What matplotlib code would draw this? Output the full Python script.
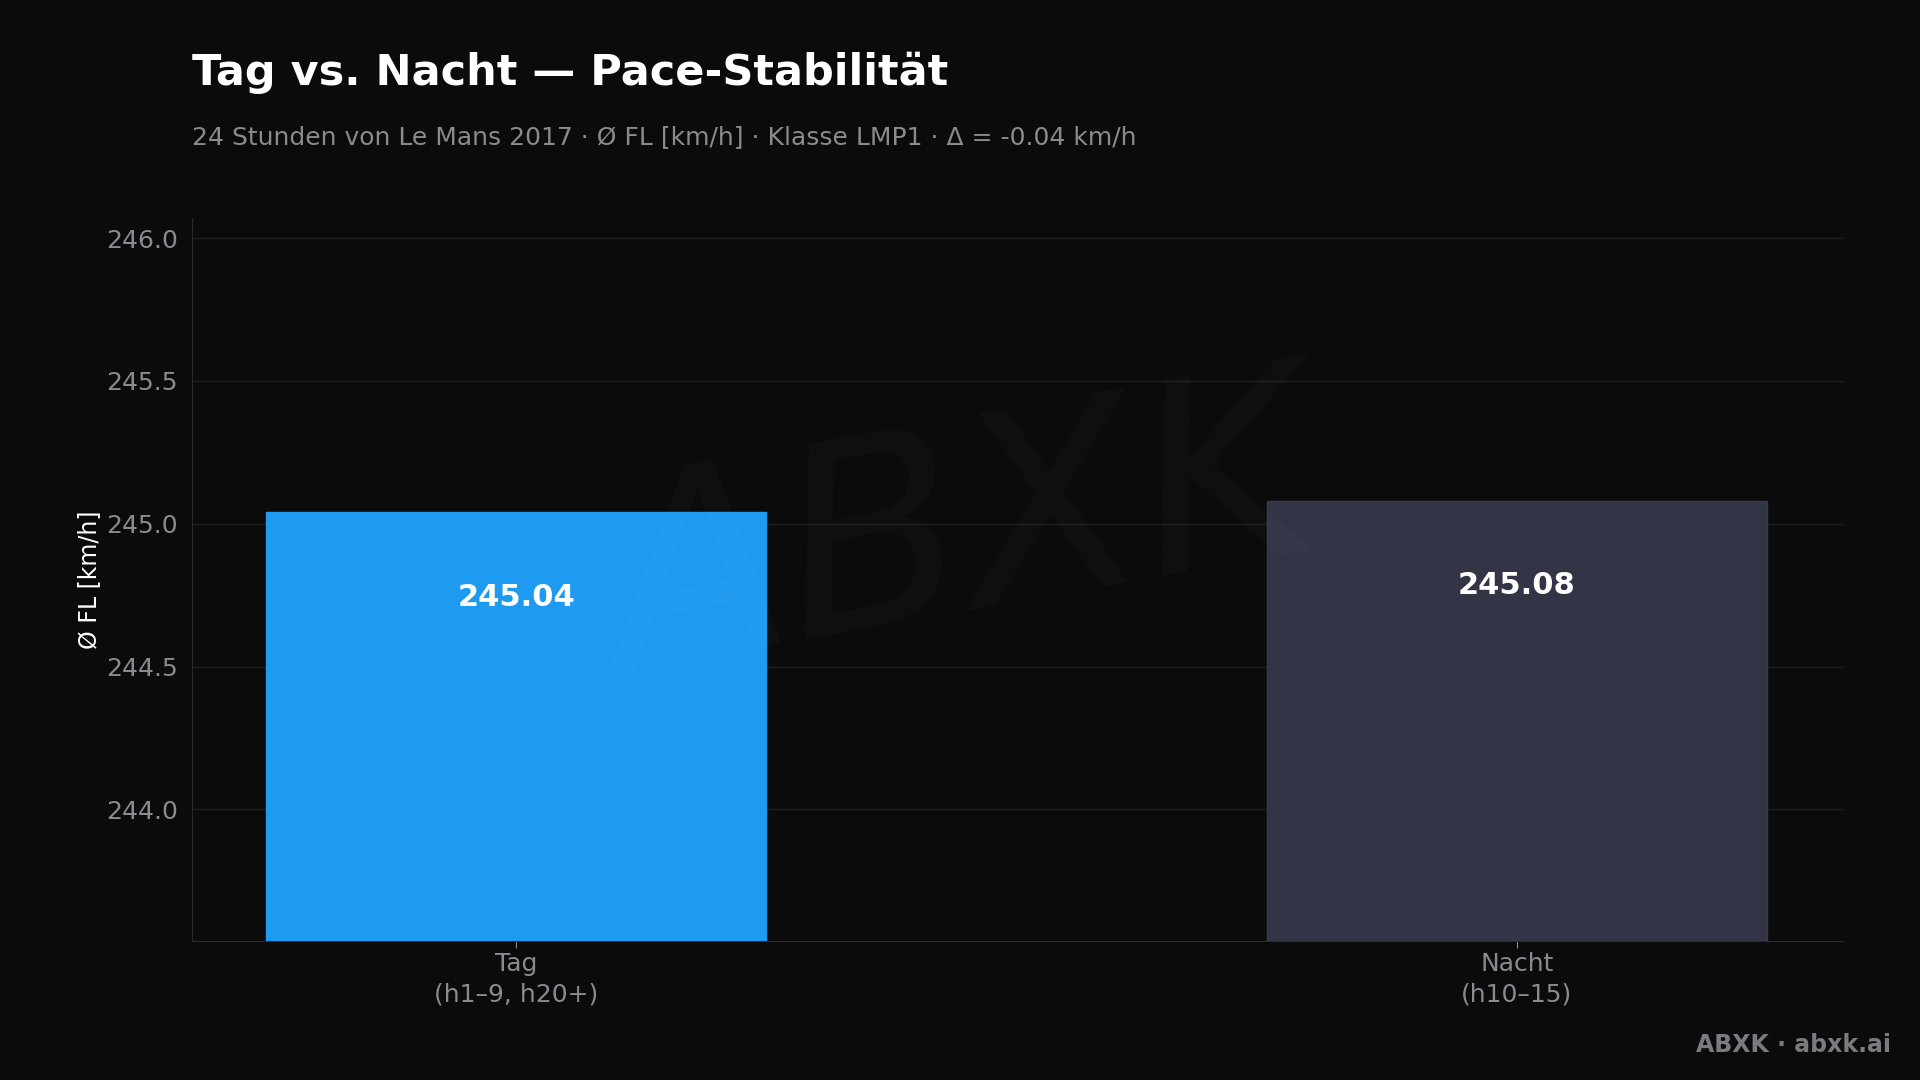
import matplotlib
matplotlib.use("Agg")
import matplotlib.pyplot as plt

categories = ["Tag\n(h1–9, h20+)", "Nacht\n(h10–15)"]
values = [245.04, 245.08]
colors = ["#1e9bf0", "#343447"]
yticks = [244.0, 244.5, 245.0, 245.5, 246.0]

bg = "#0b0b0c"
fig = plt.figure(figsize=(19.2, 10.8), dpi=100, facecolor=bg)
ax = fig.add_axes([0.100, 0.129, 0.860, 0.669], facecolor=bg)

x = list(range(len(categories)))
ax.bar(x, values, width=0.5, color=colors, edgecolor=["#1e9bf0", "#3a3a4e"], linewidth=1.0, zorder=3)
for xi, v in zip(x, values):
    ax.text(xi, v - 0.297, f"{v:.2f}", ha="center", va="center", color="white", fontsize=22, fontweight="bold", zorder=4)

ax.set_xlim(-0.324, 1.326)
ax.set_ylim(243.54, 246.07)
ax.set_yticks(yticks)
ax.set_yticklabels([f"{t:.1f}" for t in yticks])
ax.set_xticks(x)
ax.set_xticklabels(categories, linespacing=1.3)
ax.tick_params(colors="#8a8a8f", labelsize=18, length=5)
ax.tick_params(axis="y", length=0, pad=10)
ax.grid(axis="y", color="#1f1f22", linewidth=1, zorder=0)
for s in ["top", "right"]:
    ax.spines[s].set_visible(False)
for s in ["left", "bottom"]:
    ax.spines[s].set_color("#2a2a2e")
ax.set_ylabel("Ø FL [km/h]", color="white", fontsize=17, labelpad=4)

fig.text(0.5, 0.50, "ABXK", ha="center", va="center", fontsize=190, style="italic",
         color="white", alpha=0.025, rotation=10, zorder=0)

fig.text(0.100, 0.933, "Tag vs. Nacht — Pace-Stabilität", color="white", fontsize=31, fontweight="bold", va="center")
fig.text(0.100, 0.873, "24 Stunden von Le Mans 2017 · Ø FL [km/h] · Klasse LMP1 · Δ = -0.04 km/h",
         color="#8a8a8f", fontsize=18, va="center")
fig.text(0.985, 0.032, "ABXK · abxk.ai", color="#7a7a7f", fontsize=17, fontweight="bold", ha="right", va="center")

fig.savefig("out.png", dpi=100, facecolor=bg)
